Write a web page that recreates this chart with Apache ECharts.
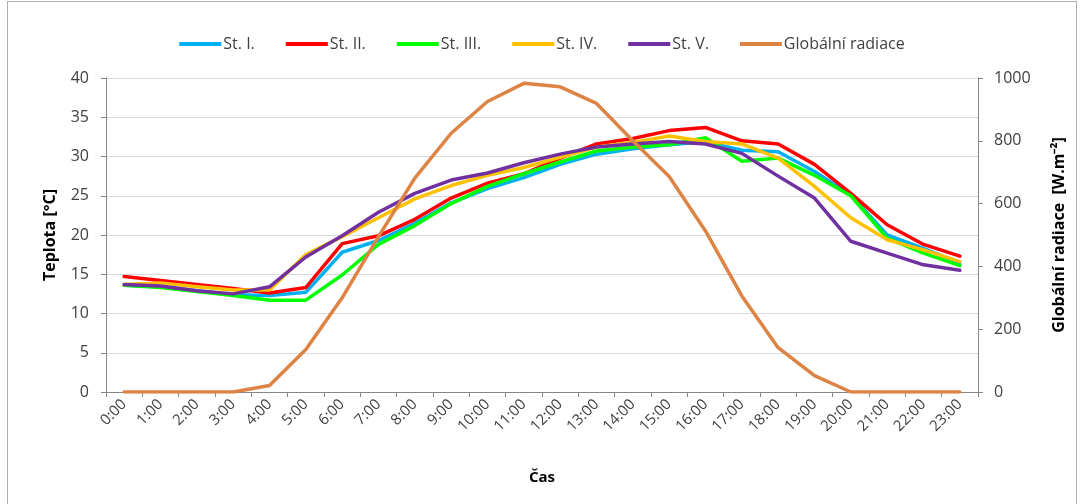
<!DOCTYPE html>
<html>
<head>
<meta charset="utf-8">
<script src="https://cdn.jsdelivr.net/npm/echarts@6/dist/echarts.min.js"></script>
<style>
  html, body { margin: 0; padding: 0; background: #fff; }
  #frame { position: absolute; left: 7px; top: 1px; width: 1068px; height: 510px; border: 1px solid #b0b0b0; }
  #chart { position: absolute; left: 0; top: 0; width: 1084px; height: 504px; }
</style>
</head>
<body>
<div id="frame"></div>
<div id="chart"></div>
<script>
// hodiny
var hours = ['0:00', '1:00', '2:00', '3:00', '4:00', '5:00', '6:00', '7:00', '8:00', '9:00', '10:00', '11:00',
  '12:00', '13:00', '14:00', '15:00', '16:00', '17:00', '18:00', '19:00', '20:00', '21:00', '22:00', '23:00'];

// teploty jednotlivych stanovist [°C]
var st1 = [13.6, 13.4, 12.9, 12.4, 12.3, 12.7, 17.8, 19.3, 21.5, 24.1, 25.9, 27.3,
  29.0, 30.3, 31.0, 31.5, 31.9, 30.8, 30.6, 28.1, 25.1, 20.0, 18.3, 16.4];
var st2 = [14.7, 14.2, 13.7, 13.2, 12.6, 13.3, 18.9, 19.9, 22.0, 24.7, 26.6, 27.8,
  29.8, 31.6, 32.3, 33.3, 33.7, 32.0, 31.6, 29.0, 25.3, 21.3, 18.8, 17.3];
var st3 = [13.6, 13.3, 12.8, 12.3, 11.7, 11.7, 14.9, 18.8, 21.2, 24.0, 26.2, 27.8,
  29.3, 30.7, 31.2, 31.5, 32.4, 29.4, 29.8, 27.6, 25.0, 19.6, 17.7, 16.1];
var st4 = [13.7, 13.9, 13.4, 13.0, 13.0, 17.5, 19.8, 22.2, 24.6, 26.3, 27.6, 28.6,
  29.9, 31.2, 31.8, 32.6, 31.9, 31.6, 29.8, 26.2, 22.2, 19.4, 18.1, 16.6];
var st5 = [13.7, 13.5, 12.9, 12.5, 13.4, 17.2, 19.9, 22.9, 25.3, 27.0, 27.9, 29.2,
  30.3, 31.2, 31.6, 31.9, 31.6, 30.4, 27.5, 24.7, 19.2, 17.7, 16.2, 15.5];

// globalni radiace [W.m-2]
var radiace = [0, 0, 0, 0, 21, 135, 300, 495, 681, 824, 925, 983,
  972, 919, 800, 686, 513, 306, 141, 52, 0, 0, 0, 0];

var font = 'Open Sans';

function lineSeries (name, data, color, yIndex) {
  return {
    name: name,
    type: 'line',
    yAxisIndex: yIndex || 0,
    data: data,
    symbol: 'none',
    color: color,
    lineStyle: { color: color, width: 3.5, cap: 'round', join: 'round' },
    emphasis: { disabled: true }
  };
}

var chart = echarts.init(document.getElementById('chart'));
chart.setOption({
  animation: false,
  textStyle: { fontFamily: font },
  legend: {
    top: 31,
    left: 'center',
    icon: 'rect',
    itemWidth: 42,
    itemHeight: 4,
    itemGap: 31,
    textStyle: { fontFamily: font, fontSize: 16, color: '#404040', padding: [0, 0, 0, -3] },
    data: ['St. I.', 'St. II.', 'St. III.', 'St. IV.', 'St. V.', 'Globální radiace']
  },
  grid: { left: 106, right: 106, top: 78, bottom: 112 },
  xAxis: {
    type: 'category',
    data: hours,
    boundaryGap: true,
    axisLine: { lineStyle: { color: '#868686' } },
    axisTick: { show: true, length: 5, lineStyle: { color: '#868686' } },
    axisLabel: { rotate: 45, fontSize: 15, color: '#404040', margin: 10, interval: 0 },
    name: 'Čas',
    nameLocation: 'middle',
    nameGap: 78,
    nameTextStyle: { fontWeight: 'bold', fontSize: 15, color: '#000' }
  },
  yAxis: [
    {
      type: 'value',
      min: 0,
      max: 40,
      interval: 5,
      axisLine: { show: true, lineStyle: { color: '#868686' } },
      axisTick: { show: true, length: 5, lineStyle: { color: '#868686' } },
      axisLabel: { fontSize: 16, color: '#404040', margin: 17 },
      splitLine: { lineStyle: { color: '#d9d9d9' } },
      name: 'Teplota [°C]',
      nameLocation: 'middle',
      nameRotate: 90,
      nameGap: 48,
      nameTextStyle: { fontWeight: 'bold', fontSize: 16, color: '#000' }
    },
    {
      type: 'value',
      min: 0,
      max: 1000,
      interval: 200,
      position: 'right',
      axisLine: { show: true, lineStyle: { color: '#868686' } },
      axisTick: { show: true, length: 5, lineStyle: { color: '#868686' } },
      axisLabel: { fontSize: 16, color: '#404040', margin: 16, formatter: function (v) { return String(v); } },
      splitLine: { show: false },
      name: 'Globální radiace  [W.m⁻²]',
      nameLocation: 'middle',
      nameRotate: 90,
      nameGap: 73,
      nameTextStyle: { fontWeight: 'bold', fontSize: 16, color: '#000' }
    }
  ],
  series: [
    lineSeries('St. I.', st1, '#00B0F0'),
    lineSeries('St. II.', st2, '#FF0000'),
    lineSeries('St. III.', st3, '#00FF00'),
    lineSeries('St. IV.', st4, '#FFC000'),
    lineSeries('St. V.', st5, '#7030A0'),
    lineSeries('Globální radiace', radiace, '#DD8344', 1)
  ]
});
</script>
</body>
</html>
